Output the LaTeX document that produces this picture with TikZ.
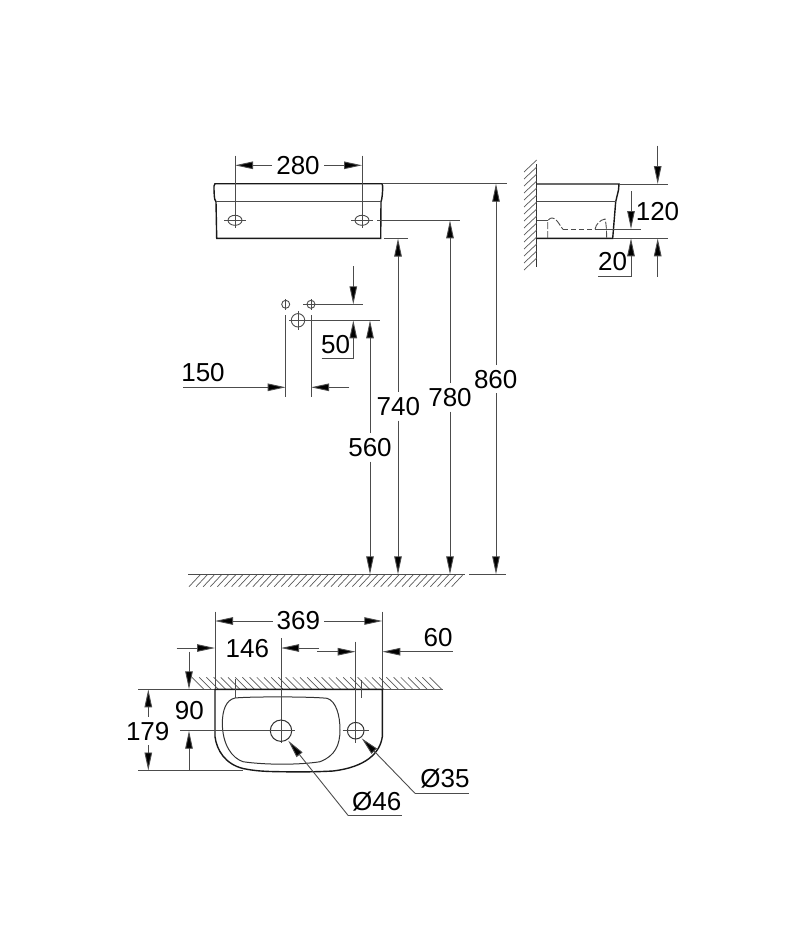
\documentclass[tikz,border=0pt]{standalone}
\usepackage{fontspec}
\setmainfont{Liberation Sans}
\usetikzlibrary{arrows.meta}
\tikzset{
  x=1pt,y=-1pt,
  thin line/.style={line width=0.9pt,draw=black!70},
  outline/.style={line width=1.4pt,draw=black!90},
  medium/.style={line width=1pt,draw=black!80},
  dimarrow/.style={thin line,-{Triangle[length=18pt,width=7.5pt,fill=black]}},
  hatchline/.style={line width=0.7pt,draw=black!65},
  lab/.style={inner sep=0pt,font=\fontsize{26}{31}\selectfont,text=black},
}
\begin{document}
\begin{tikzpicture}
\useasboundingbox (0,0) rectangle (800,950);
% front view
\draw[outline] (216,201.7) .. controls (214,201) and (214,190) .. (214,186) -- (215,183.7) -- (382,183.7) -- (382.7,186) .. controls (382.7,192) and (382,200) .. (381,201.7) -- (380.7,238.3) -- (216.7,238.3) -- cycle;
\draw[thin line] (216,201.7) -- (381,201.7);
\foreach \cx in {235,362}{
  \draw[thin line] (\cx,220.3) ellipse (7 and 5);
  \draw[thin line] (\cx-11,220.3) -- (\cx+11,220.3);
  \draw[thin line] (\cx,155.7) -- (\cx,228);
}
\coordinate (d280a) at (272,165.3); \coordinate (d280at) at (235,165.3);
\coordinate (d280b) at (324,165.3); \coordinate (d280bt) at (362,165.3);
\draw[dimarrow] (d280a) -- (d280at);
\draw[dimarrow] (d280b) -- (d280bt);
\node[lab] (t280) at (298,166) {280};
% levels
\draw[thin line] (383,183.7) -- (507,183.7);
\draw[thin line] (377,220.3) -- (460,220.3);
\draw[thin line] (384,238.5) -- (408,238.5);
% floor
\draw[thin line] (188,574.3) -- (465,574.3);
\draw[thin line] (469,574.3) -- (506,574.3);
\foreach \i in {0,...,37}{
  \draw[hatchline] ({189+\i*7.1},586.7) -- ({200+\i*7.1},575);
}
% height dimensions
\foreach \xx/\top/\ga/\gb in {370/320.3/433/461.7,398/238.5/391.7/420.7,450/220.3/383/411.7,496/183.7/365/393}{
  \draw[dimarrow] (\xx,\ga) -- (\xx,\top);
  \draw[dimarrow] (\xx,\gb) -- (\xx,574.3);
}
\node[lab] (t560) at (370,447.7) {560};
\node[lab] (t740) at (398.3,406.7) {740};
\node[lab] (t780) at (450,397.3) {780};
\node[lab] (t860) at (495.7,379.3) {860};
% wall mount holes
\foreach \cx in {285.7,311}{
  \draw[thin line] (\cx,304.3) circle (4);
  \draw[thin line] (\cx,299) -- (\cx,309.5);
  \draw[thin line] (\cx,315) -- (\cx,396.7);
}
\draw[thin line] (303,304.3) -- (363,304.3);
\draw[thin line] (298,320.3) circle (6.7);
\draw[thin line] (298,311) -- (298,330);
\draw[thin line] (289,320.3) -- (380,320.3);
\draw[dimarrow] (183,387.3) -- (285.7,387.3);
\draw[dimarrow] (349.3,387.3) -- (311,387.3);
\node[lab] (t150) at (203,372.7) {150};
\draw[dimarrow] (353.3,266) -- (353.3,304.3);
\draw[thin line] (321.7,358.3) -- (353.3,358.3) -- (353.3,340);
\draw[dimarrow] (353.3,340) -- (353.3,320.3);
\node[lab] (t50) at (335.7,344.3) {50};
% side view
\draw[medium] (536.7,164) -- (536.7,266.7);
\foreach \i in {0,...,14}{
  \draw[hatchline] (524,{172+\i*7}) -- (536.7,{160+\i*7});
}
\draw[outline] (536.7,184) -- (619,184) -- (618.5,190) -- (615.7,201.7) -- (612.7,238.3) -- (536.7,238.3);
\draw[thin line] (536.7,201.7) -- (615.7,201.7);
\draw[thin line] (619,184) -- (668,184);
\draw[thin line] (613,238.3) -- (668,238.3);
\draw[dimarrow] (657.7,145.7) -- (657.7,184);
\draw[dimarrow] (657.7,276.7) -- (657.7,238.3);
\draw[dimarrow] (631,191) -- (631,229);
\draw[thin line] (598.3,276.7) -- (631,276.7) -- (631,260);
\draw[dimarrow] (631,260) -- (631,238.3);
\draw[thin line] (595,229.3) -- (640.7,229.3);
\draw[thin line,dash pattern=on 5pt off 3pt] (563,229.3) -- (595,229.3);
\draw[thin line] (537,220.3) -- (547.7,220.3);
\draw[thin line,dash pattern=on 7pt off 2pt] (547.7,238) -- (547.7,222) .. controls (548.5,218) and (552,217) .. (555,219) .. controls (558,221) and (560,226) .. (563,229.3);
\draw[thin line,dash pattern=on 7pt off 2pt] (595,229.3) .. controls (596,224) and (600,220) .. (605,219) .. controls (606.5,224) and (606.5,232) .. (606.7,238);
\node[lab] (t120) at (657.5,211.7) {120};
\node[lab] (t20) at (612.7,262) {20};
% basin top view
\draw[hatchline] (190,689.3) -- (442.7,689.3);
\foreach \i in {0,...,33}{
  \draw[hatchline] ({192+\i*7.2},677.3) -- ({204+\i*7.2},689.3);
}
\draw[thin line] (138.3,689.3) -- (215,689.3);
\draw[outline] (215,689.3) -- (382.3,689.3) -- (382.3,736.7) .. controls (380,753) and (366,767) .. (333,771) .. controls (315,772) and (298,772) .. (280,771.7) .. controls (265,771.5) and (255,771) .. (243,768.5) .. controls (225,764) and (216.7,750) .. (215,736.7) -- cycle;
\draw[medium] (235,698) .. controls (250,696.5) and (310,696.5) .. (327,698.3) .. controls (336,701) and (340,715) .. (340,730) .. controls (340,745) and (335,756) .. (320,761.7) .. controls (300,765) and (265,765) .. (243,761.7) .. controls (232,758) and (222.5,745) .. (222.3,723) .. controls (222.5,710) and (226,700) .. (235,698) -- cycle;
\draw[thin line] (138.3,770.5) -- (243,770.5);
\draw[thin line] (235,679) -- (235,697.5);
\draw[thin line] (361.7,680) -- (361.7,698);
\draw[thin line] (215,611.7) -- (215,689.3);
\draw[thin line] (382.3,611.7) -- (382.3,689.3);
\draw[dimarrow] (272.7,621) -- (215,621);
\draw[dimarrow] (324,621) -- (382.3,621);
\node[lab] (t369) at (298.3,621) {369};
\draw[dimarrow] (176.7,648) -- (215,648);
\draw[dimarrow] (319,648) -- (281,648);
\node[lab] (t146) at (247.3,648.5) {146};
\draw[dimarrow] (317.3,651.7) -- (355.7,651.7);
\draw[dimarrow] (452.7,651.7) -- (382.3,651.7);
\node[lab] (t60) at (438,637.3) {60};
\draw[thin line] (281,638) -- (281,743);
\draw[thin line] (355.7,641.7) -- (355.7,743);
\draw[medium] (281,730.7) circle (10.7);
\draw[medium] (355.7,730.7) circle (8.3);
\draw[thin line] (180,730.7) -- (295,730.7);
\draw[thin line] (342.7,730.7) -- (369.3,730.7);
\draw[dimarrow] (189,651.7) -- (189,689.3);
\draw[dimarrow] (189,770.5) -- (189,730.7);
\node[lab] (t90) at (189.3,711) {90};
\draw[dimarrow] (148.3,716.7) -- (148.3,689.3);
\draw[dimarrow] (148.3,745) -- (148.3,770.5);
\node[lab] (t179) at (147.7,731.7) {179};
\coordinate (h46) at (288.3,740.7);
\coordinate (k46) at (348.3,815.7);
\coordinate (e46) at (401.7,815.7);
\draw[dimarrow] (k46) -- (h46);
\draw[thin line] (k46) -- (e46);
\node[lab] (tp46) at (376.7,801.7) {Ø46};
\coordinate (h35) at (361.7,738.3);
\coordinate (k35) at (415,793.3);
\coordinate (e35) at (469.3,793.3);
\draw[dimarrow] (k35) -- (h35);
\draw[thin line] (k35) -- (e35);
\node[lab] (tp35) at (445,779) {Ø35};
\end{tikzpicture}
\end{document}
